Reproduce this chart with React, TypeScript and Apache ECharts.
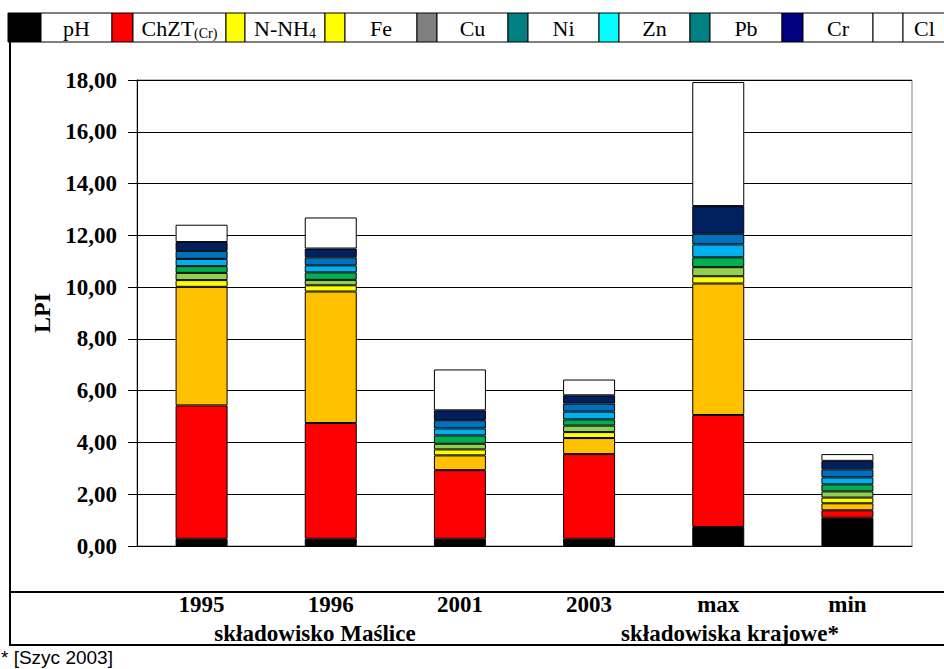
import React, { useEffect, useRef } from "react";
import * as echarts from "echarts";

const categories = ["1995", "1996", "2001", "2003", "max", "min"];
const seriesNames = ["pH", "ChZT(Cr)", "N-NH4", "Fe", "Cu", "Ni", "Zn", "Pb", "Cr", "Cl"];
const pH = [0.28, 0.28, 0.28, 0.28, 0.73, 1.09];
const chzt = [5.15, 4.47, 2.65, 3.27, 4.33, 0.29];
const nnh4 = [4.58, 5.08, 0.57, 0.62, 5.08, 0.27];
const fe = [0.26, 0.24, 0.23, 0.23, 0.28, 0.22];
const cu = [0.28, 0.21, 0.22, 0.25, 0.35, 0.24];
const ni = [0.26, 0.29, 0.32, 0.24, 0.38, 0.27];
const zn = [0.28, 0.27, 0.27, 0.30, 0.50, 0.27];
const pb = [0.31, 0.31, 0.32, 0.31, 0.41, 0.31];
const cr = [0.34, 0.34, 0.38, 0.32, 1.07, 0.33];
const cl = [0.67, 1.20, 1.58, 0.61, 4.79, 0.26];
const seriesValues = [pH, chzt, nnh4, fe, cu, ni, zn, pb, cr, cl];
const barColors = ["#000000", "#FF0000", "#FFC000", "#FFFF00", "#92D050", "#00B050", "#00B0F0", "#0070C0", "#002060", "#FFFFFF"];
const legendColors = ["#000000", "#FF0000", "#FFFF00", "#FFFF00", "#808080", "#008080", "#00FFFF", "#008080", "#000080", "#FFFFFF"];
const groupLabels = ["składowisko Maślice", "składowiska krajowe*"];
const footnote = "* [Szyc 2003]";

const FONT = '"Liberation Serif", "Times New Roman", serif';
const SANS = '"Liberation Sans", Arial, sans-serif';

// legend layout: [swatchStart, textStart, textEnd]
const legendCells: [number, number, number][] = [
  [8, 41, 112],
  [112, 133, 226],
  [226, 245, 325],
  [325, 345, 417],
  [417, 437, 508],
  [508, 528, 599],
  [599, 619, 690],
  [690, 710, 782],
  [782, 803, 873],
  [873, 903, 946],
];

function legendLabel(name: string): any {
  const rich = {
    a: { fontSize: 22, lineHeight: 24, fontFamily: FONT, fill: "#000" },
    s: { fontSize: 14, lineHeight: 10, verticalAlign: "bottom", fontFamily: FONT, fill: "#000" },
  };
  if (name === "ChZT(Cr)") return { text: "{a|ChZT}{s|(Cr)}", rich };
  if (name === "N-NH4") return { text: "{a|N-NH}{s|4}", rich };
  return { text: name, fontSize: 22, fontFamily: FONT, fill: "#000" };
}

export default function App() {
  const ref = useRef<HTMLDivElement>(null);
  useEffect(() => {
    if (!ref.current) return;
    const chart = echarts.init(ref.current, undefined, { renderer: "svg" });
    const legendTop = 13;
    const legendH = 29;
    const legendGraphics: any[] = [];
    legendCells.forEach((c, i) => {
      legendGraphics.push({
        type: "rect",
        shape: { x: c[0], y: legendTop, width: c[1] - c[0], height: legendH },
        style: { fill: legendColors[i], stroke: "#000", lineWidth: 1 },
        z: 10,
      });
      legendGraphics.push({
        type: "rect",
        shape: { x: c[1], y: legendTop, width: c[2] - c[1], height: legendH },
        style: { fill: "#fff", stroke: "#000", lineWidth: 1 },
        z: 10,
      });
      legendGraphics.push({
        type: "text",
        x: (c[1] + c[2]) / 2,
        y: legendTop + legendH / 2 + 1,
        style: { ...legendLabel(seriesNames[i]), align: "center", verticalAlign: "middle" },
        z: 11,
      });
    });

    const option: any = {
      animation: false,
      backgroundColor: "#fff",
      textStyle: { fontFamily: FONT },
      grid: {
        left: 137,
        top: 80,
        right: 32,
        bottom: 123,
        show: true,
        borderColor: "#808080",
        borderWidth: 1,
        containLabel: false,
      },
      xAxis: {
        type: "category",
        data: categories,
        axisLine: { show: true, lineStyle: { color: "#000", width: 1 } },
        axisTick: { show: false },
        axisLabel: { margin: 47, fontSize: 23, fontWeight: "bold", color: "#000", fontFamily: FONT },
      },
      yAxis: {
        type: "value",
        min: 0,
        max: 18,
        interval: 2,
        name: "LPI",
        nameLocation: "middle",
        nameGap: 82,
        nameTextStyle: { fontSize: 24, fontWeight: "bold", color: "#000", fontFamily: FONT },
        axisLine: { show: true, lineStyle: { color: "#000", width: 1 } },
        axisTick: { show: true, length: 9, lineStyle: { color: "#000" } },
        axisLabel: {
          margin: 20,
          fontSize: 23,
          fontWeight: "bold",
          color: "#000",
          fontFamily: FONT,
          formatter: (v: number) => v.toFixed(2).replace(".", ","),
        },
        splitLine: { show: true, lineStyle: { color: "#000", width: 1 } },
      },
      series: seriesNames.map((name, i) => ({
        name,
        type: "bar",
        stack: "total",
        data: seriesValues[i],
        barWidth: 52,
        itemStyle: { color: barColors[i], borderColor: "#000", borderWidth: 1 },
      })),
      graphic: [
        {
          type: "rect",
          shape: { x: 10, y: 41, width: 940, height: 604 },
          style: { fill: "none", stroke: "#000", lineWidth: 2 },
          silent: true,
        },
        {
          type: "line",
          shape: { x1: 10, y1: 592, x2: 944, y2: 592 },
          style: { stroke: "#000", lineWidth: 2 },
        },
        {
          type: "text",
          x: 315,
          y: 633,
          style: { text: groupLabels[0], fontSize: 23, fontWeight: "bold", fontFamily: FONT, fill: "#000", align: "center", verticalAlign: "middle" },
        },
        {
          type: "text",
          x: 730,
          y: 633,
          style: { text: groupLabels[1], fontSize: 23, fontWeight: "bold", fontFamily: FONT, fill: "#000", align: "center", verticalAlign: "middle" },
        },
        {
          type: "text",
          x: 1,
          y: 657,
          style: { text: footnote, fontSize: 19, fontFamily: SANS, fill: "#000", align: "left", verticalAlign: "middle" },
        },
        ...legendGraphics,
      ],
    };
    chart.setOption(option);
    return () => chart.dispose();
  }, []);
  return <div ref={ref} style={{ position: "fixed", left: 0, top: 0, width: 944, height: 669 }} />;
}
